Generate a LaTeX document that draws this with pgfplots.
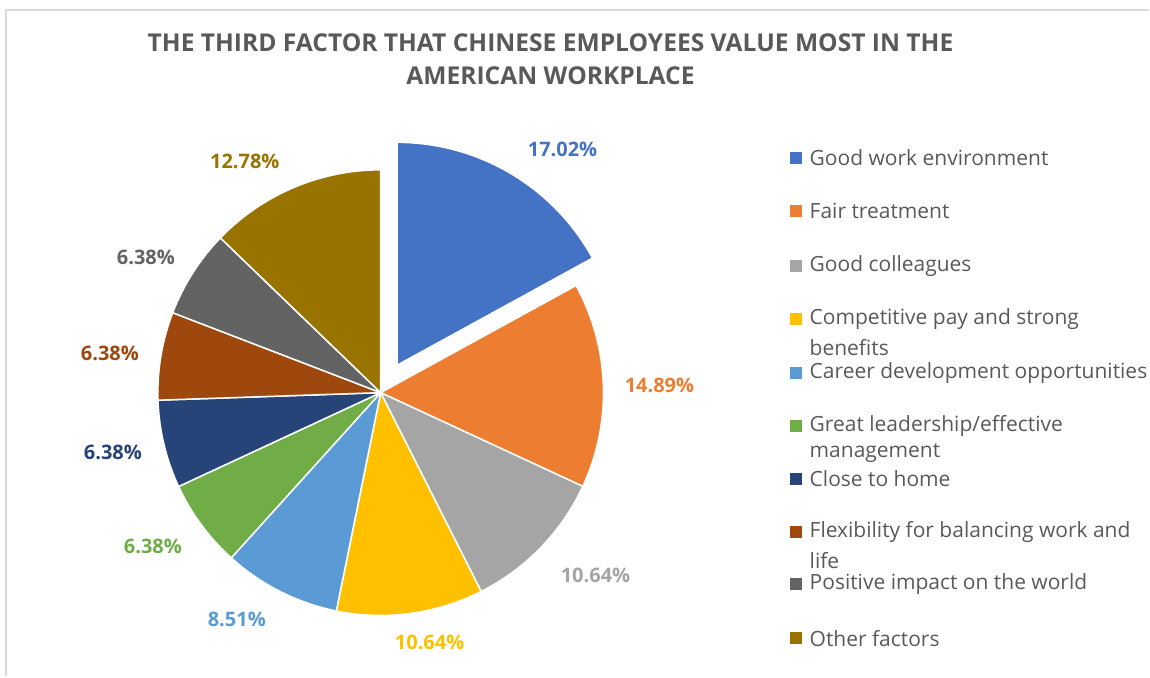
\documentclass[border=0pt]{standalone}
\usepackage{pgfplots}
\pgfplotsset{compat=1.18}
\usepackage{fontspec}
\setmainfont{Open Sans}
\definecolor{c1}{HTML}{4472C4}
\definecolor{c2}{HTML}{ED7D31}
\definecolor{c3}{HTML}{A5A5A5}
\definecolor{c4}{HTML}{FFC000}
\definecolor{c5}{HTML}{5B9BD5}
\definecolor{c6}{HTML}{70AD47}
\definecolor{c7}{HTML}{264478}
\definecolor{c8}{HTML}{9E480E}
\definecolor{c9}{HTML}{636363}
\definecolor{c10}{HTML}{997300}
\definecolor{tg}{HTML}{595959}
\definecolor{fr}{HTML}{D9D9D9}
\newcommand{\R}{111.5pt}
\begin{document}
\begin{tikzpicture}
\begin{axis}[at={(0,0)}, anchor=south west, width=575pt, height=338.5pt,
  scale only axis, xmin=0, xmax=1150, ymin=0, ymax=677,
  axis lines=none, ticks=none, clip=false]
\addplot[draw=none] coordinates {(0,0) (1150,677)};
% frame
\draw[fr, line width=1pt] (axis cs:1150,667) -- (axis cs:6,667) -- (axis cs:6,0);
% title
\node[font=\bfseries\fontsize{12.3}{15}\selectfont, text=tg] at (axis cs:551,634) {THE THIRD FACTOR THAT CHINESE EMPLOYEES VALUE MOST IN THE};
\node[font=\bfseries\fontsize{12.3}{15}\selectfont, text=tg] at (axis cs:551,601) {AMERICAN WORKPLACE};
% slices (values in percent, clockwise from 12 o'clock)
\begin{scope}[draw=white, line width=0.75pt]
\filldraw[fill=c1] ([shift={(8.25pt,13.75pt)}]axis cs:381,284) -- ++(90:\R) arc[start angle=90, delta angle={-3.6*17.02}, radius=\R] -- cycle;
\filldraw[fill=c2] (axis cs:381,284) -- ++({90-3.6*(17.02)}:\R) arc[start angle={90-3.6*(17.02)}, delta angle={-3.6*14.89}, radius=\R] -- cycle;
\filldraw[fill=c3] (axis cs:381,284) -- ++({90-3.6*(17.02+14.89)}:\R) arc[start angle={90-3.6*(17.02+14.89)}, delta angle={-3.6*10.64}, radius=\R] -- cycle;
\filldraw[fill=c4] (axis cs:381,284) -- ++({90-3.6*(17.02+14.89+10.64)}:\R) arc[start angle={90-3.6*(17.02+14.89+10.64)}, delta angle={-3.6*10.64}, radius=\R] -- cycle;
\filldraw[fill=c5] (axis cs:381,284) -- ++({90-3.6*(53.19)}:\R) arc[start angle={90-3.6*(53.19)}, delta angle={-3.6*8.51}, radius=\R] -- cycle;
\filldraw[fill=c6] (axis cs:381,284) -- ++({90-3.6*(53.19+8.51)}:\R) arc[start angle={90-3.6*(53.19+8.51)}, delta angle={-3.6*6.38}, radius=\R] -- cycle;
\filldraw[fill=c7] (axis cs:381,284) -- ++({90-3.6*(68.08)}:\R) arc[start angle={90-3.6*(68.08)}, delta angle={-3.6*6.38}, radius=\R] -- cycle;
\filldraw[fill=c8] (axis cs:381,284) -- ++({90-3.6*(68.08+6.38)}:\R) arc[start angle={90-3.6*(68.08+6.38)}, delta angle={-3.6*6.38}, radius=\R] -- cycle;
\filldraw[fill=c9] (axis cs:381,284) -- ++({90-3.6*(68.08+12.76)}:\R) arc[start angle={90-3.6*(68.08+12.76)}, delta angle={-3.6*6.38}, radius=\R] -- cycle;
\filldraw[fill=c10] (axis cs:381,284) -- ++({90-3.6*(87.22)}:\R) arc[start angle={90-3.6*(87.22)}, delta angle={-3.6*12.78}, radius=\R] -- cycle;
\end{scope}
% data labels
\begin{scope}[every node/.style={font=\bfseries\fontsize{10}{12}\selectfont}]
\node[text=c1] at (axis cs:563,527) {17.02\%};
\node[text=c2] at (axis cs:660,291) {14.89\%};
\node[text=c3] at (axis cs:596,101) {10.64\%};
\node[text=c4] at (axis cs:430,34) {10.64\%};
\node[text=c5] at (axis cs:237,57) {8.51\%};
\node[text=c6] at (axis cs:153,130) {6.38\%};
\node[text=c7] at (axis cs:113,224) {6.38\%};
\node[text=c8] at (axis cs:110,323) {6.38\%};
\node[text=c9] at (axis cs:146,419) {6.38\%};
\node[text=c10] at (axis cs:245,515) {12.78\%};
\end{scope}
% legend
\begin{scope}[every node/.style={font=\fontsize{10.5}{13.5}\selectfont, text=tg, anchor=west, inner sep=0pt}]
\fill[c1] (axis cs:791,525) rectangle (axis cs:803,513);
\node at (axis cs:810,519) {Good work environment};
\fill[c2] (axis cs:791,472) rectangle (axis cs:803,460);
\node at (axis cs:810,466) {Fair treatment};
\fill[c3] (axis cs:791,417) rectangle (axis cs:803,405);
\node at (axis cs:810,411) {Good colleagues};
\fill[c4] (axis cs:791,364) rectangle (axis cs:803,352);
\node at (axis cs:810,358) {Competitive pay and strong};
\node at (axis cs:810,329) {benefits};
\fill[c5] (axis cs:791,310) rectangle (axis cs:803,298);
\node at (axis cs:810,304) {Career development opportunities};
\fill[c6] (axis cs:791,257) rectangle (axis cs:803,245);
\node at (axis cs:810,251) {Great leadership/effective};
\node at (axis cs:810,223) {management};
\fill[c7] (axis cs:791,204) rectangle (axis cs:803,192);
\node at (axis cs:810,198) {Close to home};
\fill[c8] (axis cs:791,151) rectangle (axis cs:803,139);
\node at (axis cs:810,145) {Flexibility for balancing work and};
\node at (axis cs:810,116) {life};
\fill[c9] (axis cs:791,98) rectangle (axis cs:803,86);
\node at (axis cs:810,92) {Positive impact on the world};
\fill[c10] (axis cs:791,44) rectangle (axis cs:803,32);
\node at (axis cs:810,38) {Other factors};
\end{scope}
\end{axis}
\end{tikzpicture}
\end{document}
